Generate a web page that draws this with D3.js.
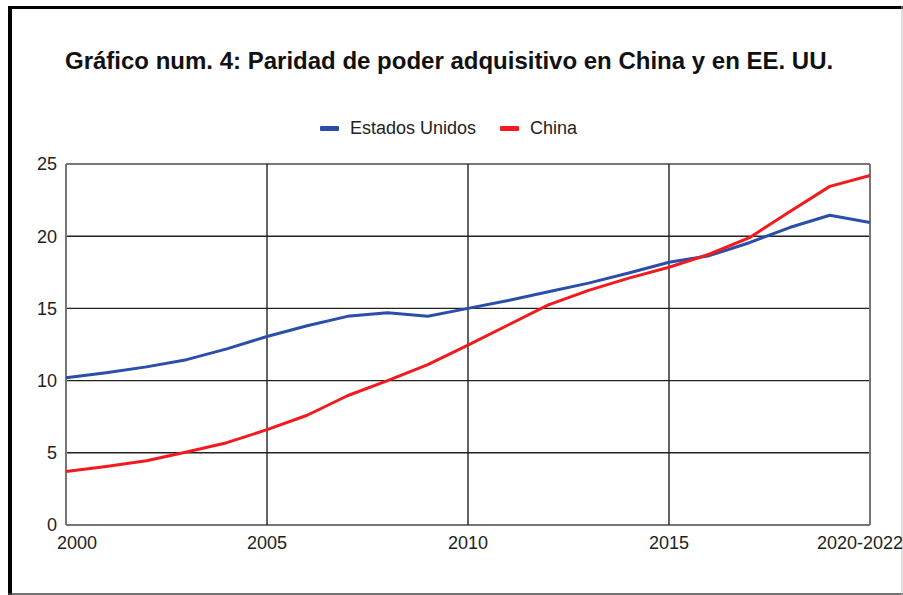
<!DOCTYPE html>
<html><head><meta charset="utf-8">
<script src="https://cdn.jsdelivr.net/npm/d3@7"></script>
<style>
html,body{margin:0;padding:0;background:#fff;}
svg{display:block;font-family:"Liberation Sans",Arial,sans-serif;}
</style></head>
<body><svg id="c" width="903" height="595"></svg>
<script>
const years = [2000,2001,2002,2003,2004,2005,2006,2007,2008,2009,2010,2011,2012,2013,2014,2015,2016,2017,2018,2019,2020];
const usa   = [10.2,10.55,10.95,11.45,12.2,13.05,13.8,14.45,14.7,14.45,15.0,15.55,16.15,16.75,17.45,18.2,18.65,19.55,20.6,21.45,20.95];
const china = [3.7,4.05,4.45,5.05,5.7,6.6,7.6,8.95,10.0,11.1,12.45,13.85,15.25,16.25,17.1,17.85,18.75,19.9,21.7,23.45,24.2];
const xTicks = [2000,2005,2010,2015,2020];
const xTickLabels = ["2000","2005","2010","2015","2020-2022"];
const yTicks = [0,5,10,15,20,25];
const seriesNames = ["Estados Unidos","China"];
const seriesColors = ["#2b4ea8","#f21a1f"];
const title = "Gráfico num. 4: Paridad de poder adquisitivo en China y en EE. UU.";

const svg = d3.select("#c");
const W = 903, H = 595;
const L = 66, R = 870, T = 164, B = 525;

// outer frame
svg.append("line").attr("x1",10).attr("x2",10).attr("y1",6).attr("y2",595).attr("stroke","#000").attr("stroke-width",4);
svg.append("line").attr("x1",8).attr("x2",903).attr("y1",7.5).attr("y2",7.5).attr("stroke","#000").attr("stroke-width",3);
svg.append("line").attr("x1",8).attr("x2",903).attr("y1",594).attr("y2",594).attr("stroke","#444").attr("stroke-width",1.5);
svg.append("line").attr("x1",902).attr("x2",902).attr("y1",6).attr("y2",595).attr("stroke","#bbb").attr("stroke-width",1);

svg.append("text").attr("x",65).attr("y",69).attr("font-size",24).attr("font-weight","bold").attr("fill","#111").text(title);

const x = d3.scaleLinear().domain([2000,2020]).range([L,R]);
const y = d3.scaleLinear().domain([0,25]).range([B,T]);

// gridlines
const g = svg.append("g");
g.selectAll(".hg").data(yTicks).join("line")
  .attr("x1",L).attr("x2",R).attr("y1",d=>y(d)).attr("y2",d=>y(d))
  .attr("stroke",d=>(d===0||d===25)?"#777":"#222").attr("stroke-width",d=>(d===0||d===25)?2:1.4);
g.selectAll(".vg").data(xTicks).join("line")
  .attr("x1",d=>x(d)).attr("x2",d=>x(d)).attr("y1",T).attr("y2",B)
  .attr("stroke",d=>(d===2000||d===2020)?"#777":"#222").attr("stroke-width",d=>(d===2000||d===2020)?2:1.4);

// y labels
svg.selectAll(".yl").data(yTicks).join("text")
  .attr("x",57).attr("y",d=>y(d)).attr("dy","0.35em").attr("text-anchor","end")
  .attr("font-size",18).attr("fill","#222").text(d=>d);

// x labels
svg.selectAll(".xl").data(xTicks).join("text")
  .attr("x",(d,i)=> i===0 ? x(d)-9 : (i===xTicks.length-1 ? W : x(d)))
  .attr("y",549)
  .attr("text-anchor",(d,i)=> i===0 ? "start" : (i===xTicks.length-1 ? "end" : "middle"))
  .attr("font-size",18).attr("fill","#222").text((d,i)=>xTickLabels[i]);

// lines
const line = d3.line().x((d,i)=>x(years[i])).y(d=>y(d));
[usa,china].forEach((s,k)=>{
  svg.append("path").datum(s).attr("d",line).attr("fill","none")
    .attr("stroke",seriesColors[k]).attr("stroke-width",3).attr("stroke-linejoin","round");
});

// legend
const lg = svg.append("g");
const legendX = [320,500];
seriesNames.forEach((n,k)=>{
  lg.append("rect").attr("x",legendX[k]).attr("y",126).attr("width",19).attr("height",5).attr("rx",1).attr("fill",seriesColors[k]);
  lg.append("text").attr("x",legendX[k]+30).attr("y",134).attr("font-size",18).attr("fill","#222").text(n);
});
</script></body></html>
